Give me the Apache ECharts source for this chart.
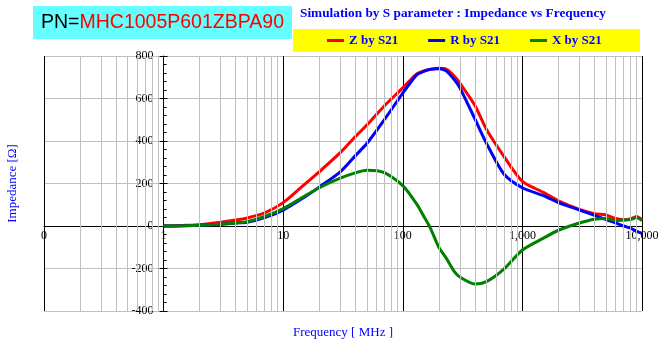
<!DOCTYPE html>
<html><head><meta charset="utf-8">
<script src="https://cdn.jsdelivr.net/npm/echarts@6/dist/echarts.min.js"></script>
<style>html,body{margin:0;padding:0;background:#fff}#c{width:661px;height:344px}</style>
</head><body><div id="c"></div>
<script>
// Frequency in MHz (log axis)
const freqMHz = [1,1.5,2,3,4,5,7,10,15,20,30,40,50,70,100,130,150,170,200,230,270,300,400,500,700,1000,1500,2000,3000,4000,5000,6000,7000,8000,9000,10000];
// Impedance values in ohm
const zByS21 = [0,3,6,18,28,38,62,110,195,255,345,420,475,565,650,715,730,738,742,738,705,672,568,455,328,210,158,118,78,58,52,35,30,33,45,30];
const rByS21 = [0,1,3,8,14,18,40,75,135,183,255,330,388,500,625,710,728,737,740,730,688,650,505,390,245,180,143,110,75,50,30,15,0,-10,-25,-35];
const xByS21 = [0,1,3,8,14,20,45,82,140,180,225,250,262,251,190,105,45,-10,-100,-150,-215,-240,-273,-262,-203,-113,-57,-20,14,32,35,25,28,30,40,25];

const seriesNames = ['Z by S21','R by S21','X by S21'];
const seriesColors = ['#FF0000','#0000FF','#008000'];

const xTickValues = [0.1,1,10,100,1000,10000];
const xTickLabels = ['0','1','10','100','1,000','10,000'];
const yMin = -400, yMax = 800, yStep = 200;

const titleText = 'Simulation by S parameter : Impedance vs Frequency';
const pnPrefix = 'PN=';
const pnName = 'MHC1005P601ZBPA90';
const xName = 'Frequency [ MHz ]';
const yName = 'Impedance [Ω]';

// minor log grid positions (2..9 per decade)
const minorGrid = [];
for (let d = 0.1; d < 10000; d *= 10) {
  for (let k = 2; k <= 9; k++) minorGrid.push(+(d * k).toPrecision(6));
}

const chart = echarts.init(document.getElementById('c'), null, {renderer: 'canvas'});
const serif = 'Liberation Serif';

const series = [
  {
    type: 'line', name: '_grid', z: -1, silent: true,
    data: [[1, 0]], showSymbol: false, symbol: 'none',
    lineStyle: {opacity: 0},
    markLine: {
      silent: true, symbol: ['none','none'], animation: false,
      label: {show: false},
      lineStyle: {color: '#C0C0C0', width: 1, type: 'solid'},
      emphasis: {disabled: true},
      data: minorGrid.map(v => ({xAxis: v}))
    }
  }
];
[zByS21, rByS21, xByS21].forEach((vals, i) => {
  series.push({
    type: 'line', name: seriesNames[i], z: 3,
    data: freqMHz.map((f, j) => [f, vals[j]]),
    showSymbol: false, symbol: 'none', smooth: 0.25,
    lineStyle: {color: seriesColors[i], width: 3},
    itemStyle: {color: seriesColors[i]}
  });
});

chart.setOption({
  animation: false,
  title: {
    text: titleText, left: 300, top: 7, padding: 0,
    textStyle: {fontFamily: serif, fontWeight: 'bold', fontSize: 13.3, color: '#0000FF'}
  },
  legend: {
    data: seriesNames, left: 327, top: 34, padding: 0,
    icon: 'rect', itemWidth: 17, itemHeight: 3, itemGap: 30,
    textStyle: {fontFamily: serif, fontWeight: 'bold', fontSize: 13, color: '#0000FF'}
  },
  graphic: [
    {type: 'rect', z: -10, shape: {x: 33, y: 6, width: 259, height: 33}, style: {fill: '#66FFFF'}},
    {type: 'rect', z: -10, shape: {x: 293, y: 29, width: 347, height: 23}, style: {fill: '#FFFF00'}},
    {type: 'text', z: 10, left: 41, top: 13, style: {
      text: '{a|' + pnPrefix + '}{b|' + pnName + '}',
      rich: {
        a: {fontFamily: 'Liberation Sans', fontSize: 19.5, fill: '#000000'},
        b: {fontFamily: 'Liberation Sans', fontSize: 19.5, fill: '#FF0000'}
      }
    }}
  ],
  grid: {left: 44, right: 19, top: 56, bottom: 33, containLabel: false, outerBoundsMode: 'none'},
  xAxis: {
    type: 'log', logBase: 10, min: 0.1, max: 10000,
    position: 'bottom', offset: -85,
    name: xName, nameLocation: 'middle', nameGap: 100,
    nameTextStyle: {fontFamily: serif, fontSize: 13, color: '#0000FF'},
    axisLine: {onZero: false, lineStyle: {color: '#000', width: 1}},
    axisTick: {show: true, length: 3, lineStyle: {color: '#000'}},
    axisLabel: {
      margin: 4, fontFamily: serif, fontSize: 12, color: '#000', hideOverlap: false,
      formatter: v => {
        const i = xTickValues.findIndex(t => Math.abs(Math.log10(t) - Math.log10(v)) < 1e-6);
        return i >= 0 ? xTickLabels[i] : '';
      }
    },
    splitLine: {show: true, lineStyle: {color: '#000', width: 1}}
  },
  yAxis: [
    {
      type: 'value', min: yMin, max: yMax, interval: yStep, position: 'left', offset: -119.6,
      name: yName, nameLocation: 'middle', nameGap: 145, nameRotate: 90,
      nameTextStyle: {fontFamily: serif, fontSize: 13, color: '#0000FF'},
      axisLine: {show: true, onZero: false, lineStyle: {color: '#000', width: 1}},
      axisTick: {show: true, inside: true, length: 4, lineStyle: {color: '#000'}},
      minorTick: {show: true, splitNumber: 5, length: 3, lineStyle: {color: '#000'}},
      axisLabel: {margin: 10, fontFamily: serif, fontSize: 12, color: '#000', hideOverlap: false},
      splitLine: {show: true, lineStyle: {color: '#C0C0C0', width: 1}}
    },
    {
      type: 'value', min: yMin, max: yMax, interval: yStep, position: 'left', offset: -119.6,
      axisLine: {show: false, onZero: false},
      axisTick: {show: true, inside: false, length: 4, lineStyle: {color: '#000'}},
      axisLabel: {show: false},
      splitLine: {show: false}
    }
  ],
  series: series
});
</script>
</body></html>
